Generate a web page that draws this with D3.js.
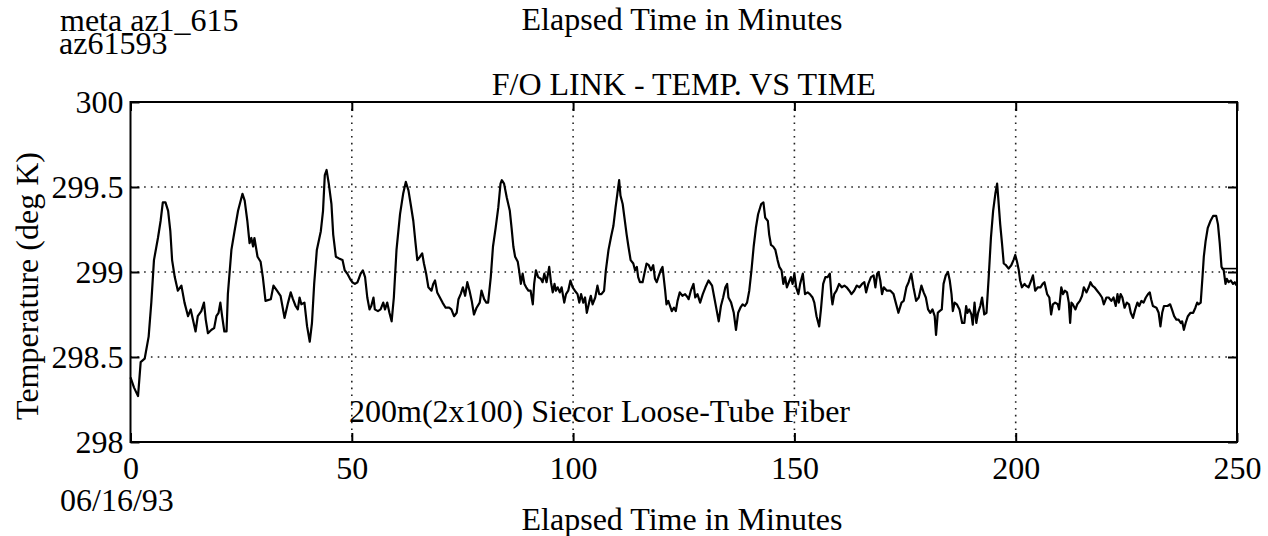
<!DOCTYPE html>
<html>
<head>
<meta charset="utf-8">
<script src="https://cdn.jsdelivr.net/npm/d3@7"></script>
<style>
  body { margin: 0; background: #fff; }
</style>
</head>
<body>
<div id="target"></div>
<script>
// elapsed time (minutes) and temperature (deg K)
const timeMin = [
  0.0, 0.8, 1.7, 2.3, 3.2, 4.1, 4.7, 5.3, 6.2, 6.8, 7.3, 7.9, 8.5, 9.0, 9.4, 10.0, 10.7, 11.5, 12.2, 13.0,
  13.6, 14.1, 14.7, 15.2, 16.0, 16.6, 17.0, 17.5, 18.3, 18.9, 19.4, 19.9, 20.3, 20.7, 21.2, 21.7, 22.0, 22.8, 23.5, 24.3,
  25.3, 25.8, 26.4, 26.9, 27.3, 27.7, 28.0, 28.7, 29.4, 29.9, 30.5, 31.7, 32.3, 33.1, 33.9, 34.8, 35.6, 36.2, 36.7, 37.3,
  37.8, 38.2, 38.6, 39.3, 39.9, 40.5, 41.0, 41.5, 42.1, 43.0, 43.5, 43.9, 44.3, 44.8, 45.4, 45.8, 46.4, 47.1, 47.9, 48.4,
  49.0, 49.6, 50.1, 50.7, 51.3, 52.0, 52.5, 53.0, 53.5, 54.0, 54.4, 54.9, 55.2, 55.9, 56.5, 57.1, 57.5, 58.0, 58.5, 59.0,
  59.5, 60.1, 60.9, 61.6, 62.2, 62.8, 63.3, 63.9, 64.4, 64.8, 65.4, 65.9, 66.3, 66.8, 67.3, 68.0, 68.4, 68.8, 69.3, 69.9,
  70.5, 71.2, 72.0, 72.5, 73.1, 73.7, 74.1, 74.6, 75.1, 75.6, 76.1, 76.6, 77.1, 77.6, 78.2, 78.9, 79.3, 79.9, 80.4, 80.8,
  81.4, 81.9, 82.5, 83.1, 83.6, 83.9, 84.4, 85.0, 85.7, 86.1, 86.5, 86.9, 87.5, 87.8, 88.2, 88.6, 89.0, 89.4, 89.9, 90.4,
  90.9, 91.2, 91.6, 92.1, 92.7, 93.1, 93.5, 94.0, 94.6, 95.0, 95.4, 95.8, 96.1, 96.5, 97.0, 97.4, 98.0, 98.4, 98.9, 99.4,
  99.9, 100.4, 101.0, 101.4, 101.8, 102.3, 102.7, 103.1, 103.7, 104.0, 104.4, 105.0, 105.5, 105.9, 106.4, 107.0, 107.4, 108.0, 108.6, 109.1,
  109.6, 110.0, 110.4, 110.7, 111.2, 111.6, 112.1, 112.5, 113.0, 113.6, 114.0, 114.4, 114.7, 115.1, 115.7, 116.1, 116.6, 117.1, 117.6, 118.1,
  118.5, 118.9, 119.4, 119.8, 120.2, 120.8, 121.1, 121.5, 121.9, 122.3, 122.8, 123.2, 123.6, 124.1, 124.7, 125.3, 125.9, 126.1, 126.6, 127.2,
  127.6, 128.1, 128.7, 129.3, 129.9, 130.6, 131.4, 131.9, 132.4, 132.9, 133.4, 133.9, 134.4, 134.8, 135.1, 135.7, 136.3, 136.8, 137.3, 137.8,
  138.3, 138.8, 139.3, 139.8, 140.3, 140.8, 141.3, 141.8, 142.5, 143.0, 143.4, 144.0, 144.3, 144.7, 145.2, 145.7, 146.2, 146.6, 147.1, 147.5,
  147.9, 148.3, 148.9, 149.2, 149.6, 150.0, 150.4, 150.9, 151.3, 151.9, 152.4, 153.0, 153.5, 154.1, 154.5, 155.0, 155.6, 156.0, 156.5, 157.0,
  157.5, 158.0, 158.4, 158.6, 159.0, 159.5, 160.1, 160.7, 161.3, 161.8, 162.4, 162.9, 163.5, 164.1, 164.7, 165.3, 165.8, 166.2, 166.7, 167.3,
  167.9, 168.3, 168.7, 169.0, 169.4, 169.8, 170.2, 170.9, 171.7, 172.4, 172.9, 173.5, 174.2, 174.7, 175.3, 175.8, 176.4, 176.9, 177.5, 178.1,
  178.7, 179.2, 179.7, 180.2, 180.7, 181.2, 181.7, 182.0, 182.4, 182.8, 183.3, 183.7, 184.2, 184.7, 185.1, 185.5, 185.8, 186.2, 186.7, 187.3,
  187.9, 188.4, 188.8, 189.1, 189.5, 190.0, 190.3, 190.7, 191.1, 191.5, 192.0, 192.4, 192.9, 193.4, 193.9, 194.4, 194.9, 195.4, 195.8, 196.1,
  196.5, 196.9, 197.3, 197.8, 198.4, 199.0, 199.5, 199.9, 200.3, 200.7, 201.0, 201.4, 202.0, 202.3, 202.9, 203.5, 203.9, 204.4, 205.0, 205.6,
  206.1, 206.5, 207.1, 207.6, 208.0, 208.4, 208.9, 209.5, 209.8, 210.3, 210.7, 211.1, 211.6, 212.0, 212.3, 212.6, 212.9, 213.5, 213.9, 214.5,
  215.0, 215.4, 216.0, 216.5, 216.9, 217.3, 217.8, 218.4, 219.0, 219.5, 219.9, 220.5, 221.0, 221.6, 222.1, 222.6, 223.0, 223.3, 223.7, 224.1,
  224.6, 225.1, 225.6, 226.0, 226.5, 227.0, 227.5, 227.9, 228.4, 228.9, 229.4, 229.9, 230.3, 230.6, 231.0, 231.8, 232.3, 232.7, 233.1, 233.5,
  234.3, 234.9, 235.3, 235.8, 236.3, 236.8, 237.3, 237.6, 238.0, 238.4, 238.9, 239.5, 240.1, 240.6, 241.0, 241.3, 241.8, 242.2, 242.5, 242.9,
  243.4, 244.0, 244.6, 245.3, 245.7, 246.1, 246.5, 247.0, 247.4, 247.7, 248.1, 248.6, 249.1, 249.5, 249.9
];
const tempK = [
  298.38, 298.32, 298.27, 298.47, 298.49, 298.62, 298.82, 299.07, 299.20, 299.30, 299.41, 299.41, 299.36, 299.24, 299.07, 298.97, 298.89, 298.92, 298.82, 298.74,
  298.78, 298.72, 298.65, 298.74, 298.77, 298.82, 298.72, 298.64, 298.66, 298.67, 298.74, 298.76, 298.82, 298.74, 298.65, 298.65, 298.87, 299.13, 299.24, 299.36,
  299.46, 299.42, 299.30, 299.17, 299.20, 299.15, 299.20, 299.09, 299.06, 298.97, 298.83, 298.84, 298.92, 298.89, 298.86, 298.73, 298.82, 298.88, 298.84, 298.80,
  298.78, 298.85, 298.81, 298.82, 298.68, 298.59, 298.70, 298.93, 299.13, 299.24, 299.36, 299.57, 299.60, 299.52, 299.40, 299.22, 299.09, 299.08, 299.07, 299.01,
  298.99, 298.96, 298.94, 298.93, 298.94, 298.99, 299.01, 298.97, 298.85, 298.78, 298.80, 298.85, 298.78, 298.77, 298.78, 298.82, 298.78, 298.82, 298.76, 298.71,
  298.85, 299.13, 299.34, 299.46, 299.53, 299.48, 299.40, 299.30, 299.17, 299.07, 299.09, 299.11, 299.05, 298.99, 298.91, 298.89, 298.93, 298.95, 298.88, 298.85,
  298.82, 298.79, 298.79, 298.78, 298.74, 298.76, 298.84, 298.87, 298.91, 298.86, 298.94, 298.89, 298.83, 298.75, 298.79, 298.82, 298.89, 298.84, 298.82, 298.82,
  298.97, 299.15, 299.26, 299.38, 299.52, 299.54, 299.52, 299.44, 299.36, 299.26, 299.15, 299.09, 299.06, 299.01, 298.93, 298.99, 298.93, 298.91, 298.89, 298.89,
  298.81, 298.93, 299.01, 298.97, 298.96, 298.94, 298.99, 298.94, 299.03, 298.94, 298.88, 298.93, 298.89, 298.91, 298.88, 298.91, 298.82, 298.87, 298.89, 298.95,
  298.91, 298.89, 298.87, 298.82, 298.87, 298.82, 298.85, 298.76, 298.83, 298.86, 298.81, 298.85, 298.92, 298.87, 298.87, 298.89, 299.01, 299.13, 299.21, 299.27,
  299.38, 299.46, 299.54, 299.45, 299.40, 299.32, 299.22, 299.15, 299.07, 299.05, 299.01, 299.03, 298.97, 298.94, 298.94, 298.99, 299.05, 299.04, 299.01, 299.04,
  298.96, 298.94, 298.98, 299.01, 299.03, 298.89, 298.81, 298.83, 298.80, 298.77, 298.79, 298.77, 298.83, 298.88, 298.86, 298.87, 298.85, 298.84, 298.89, 298.93,
  298.85, 298.87, 298.82, 298.87, 298.91, 298.95, 298.92, 298.85, 298.78, 298.71, 298.80, 298.85, 298.91, 298.93, 298.85, 298.82, 298.76, 298.66, 298.76, 298.79,
  298.81, 298.80, 298.82, 298.89, 299.01, 299.15, 299.26, 299.34, 299.40, 299.41, 299.32, 299.30, 299.22, 299.16, 299.15, 299.13, 299.07, 299.03, 299.01, 298.93,
  298.97, 298.91, 298.95, 298.97, 298.93, 298.99, 298.91, 298.87, 298.93, 298.99, 298.87, 298.88, 298.87, 298.85, 298.82, 298.74, 298.68, 298.78, 298.93, 298.97,
  298.97, 298.99, 298.85, 298.81, 298.87, 298.89, 298.93, 298.91, 298.92, 298.91, 298.89, 298.87, 298.89, 298.92, 298.91, 298.93, 298.94, 298.88, 298.93, 298.97,
  298.98, 298.91, 298.99, 299.00, 298.95, 298.87, 298.91, 298.89, 298.89, 298.87, 298.82, 298.76, 298.82, 298.83, 298.91, 298.94, 298.99, 298.91, 298.83, 298.85,
  298.92, 298.88, 298.85, 298.78, 298.76, 298.78, 298.74, 298.63, 298.76, 298.77, 298.78, 298.93, 298.98, 299.00, 298.95, 298.87, 298.77, 298.82, 298.81, 298.78,
  298.70, 298.70, 298.80, 298.76, 298.78, 298.75, 298.69, 298.82, 298.70, 298.76, 298.80, 298.85, 298.75, 298.76, 298.97, 299.20, 299.36, 299.46, 299.52, 299.42,
  299.28, 299.17, 299.05, 299.04, 299.02, 299.04, 299.07, 299.10, 299.06, 299.01, 298.95, 298.91, 298.93, 298.92, 298.91, 298.95, 298.98, 298.89, 298.91, 298.91,
  298.93, 298.94, 298.87, 298.85, 298.75, 298.81, 298.82, 298.81, 298.78, 298.91, 298.87, 298.89, 298.88, 298.82, 298.70, 298.82, 298.81, 298.78, 298.81, 298.83,
  298.86, 298.91, 298.88, 298.91, 298.94, 298.92, 298.91, 298.89, 298.87, 298.85, 298.81, 298.85, 298.85, 298.83, 298.85, 298.80, 298.87, 298.82, 298.87, 298.85,
  298.79, 298.82, 298.81, 298.76, 298.73, 298.78, 298.82, 298.80, 298.83, 298.82, 298.85, 298.87, 298.88, 298.84, 298.80, 298.79, 298.76, 298.68, 298.76, 298.80,
  298.80, 298.81, 298.78, 298.74, 298.72, 298.72, 298.70, 298.71, 298.66, 298.70, 298.74, 298.76, 298.76, 298.79, 298.82, 298.81, 298.82, 298.97, 299.09, 299.18,
  299.26, 299.30, 299.33, 299.33, 299.28, 299.17, 299.03, 299.01, 298.93, 298.96, 298.94, 298.95, 298.93, 298.94, 298.92
];
// short flat piece drawn at the right end
const tailTime = [246.5, 250];
const tailTemp = [299.02, 299.02];

const xTicks = [0, 50, 100, 150, 200, 250];
const yTicks = [298, 298.5, 299, 299.5, 300];
const yTickLabels = ['298', '298.5', '299', '299.5', '300'];

const width = 1268;
const height = 536;
const margin = {top: 102, right: 31, bottom: 94, left: 130.5};
const fontSize = 32;
const serif = "'Liberation Serif', 'Times New Roman', Times, serif";

const svg = d3.select('#target')
  .append('svg')
  .attr('width', width)
  .attr('height', height)
  .style('font-family', serif);

const x = d3.scaleLinear()
  .domain([0, 250])
  .range([margin.left, width - margin.right]);

const y = d3.scaleLinear()
  .domain([298, 300])
  .range([height - margin.bottom, margin.top]);

// dotted grid
const grid = svg.append('g').attr('class', 'grid')
  .attr('stroke', '#222')
  .attr('stroke-width', 1.6)
  .attr('stroke-dasharray', '1.6,5.2');

grid.selectAll('.vline')
  .data(xTicks.slice(1, -1))
  .enter().append('line')
  .attr('x1', (d) => x(d)).attr('x2', (d) => x(d))
  .attr('y1', y(300)).attr('y2', y(298));

grid.selectAll('.hline')
  .data(yTicks.slice(1, -1))
  .enter().append('line')
  .attr('x1', x(0)).attr('x2', x(250))
  .attr('y1', (d) => y(d)).attr('y2', (d) => y(d));

// axes with inward ticks
const tick = 9;
const styleAxis = (sel) => {
  sel.attr('font-family', serif).attr('font-size', fontSize);
  sel.select('.domain').remove();
  sel.selectAll('.tick line').attr('stroke', '#000').attr('stroke-width', 2);
  sel.selectAll('.tick text').attr('font-size', fontSize).attr('font-family', serif);
};

svg.append('g')
  .attr('transform', `translate(0,${y(298)})`)
  .call(d3.axisBottom(x).tickValues(xTicks).tickSize(-tick).tickPadding(14).tickFormat(d3.format('d')))
  .call(styleAxis);

svg.append('g')
  .attr('transform', `translate(${x(0)},0)`)
  .call(d3.axisLeft(y).tickValues(yTicks).tickSize(-tick).tickPadding(7)
    .tickFormat((d, i) => yTickLabels[i]))
  .call(styleAxis);

svg.append('g')
  .attr('transform', `translate(0,${y(300)})`)
  .call(d3.axisTop(x).tickValues(xTicks).tickSize(-tick).tickFormat(''))
  .call(styleAxis);

svg.append('g')
  .attr('transform', `translate(${x(250)},0)`)
  .call(d3.axisRight(y).tickValues(yTicks).tickSize(-tick).tickFormat(''))
  .call(styleAxis);

// box
svg.append('rect')
  .attr('x', x(0)).attr('y', y(300))
  .attr('width', x(250) - x(0)).attr('height', y(298) - y(300))
  .attr('fill', 'none')
  .attr('stroke', '#000')
  .attr('stroke-width', 2);

// temperature trace
const line = d3.line()
  .x((d) => x(d[0]))
  .y((d) => y(d[1]));

svg.append('path')
  .datum(d3.zip(timeMin, tempK))
  .attr('fill', 'none')
  .attr('stroke', '#000')
  .attr('stroke-width', 2.2)
  .attr('stroke-linejoin', 'round')
  .attr('d', line);

svg.append('path')
  .datum(d3.zip(tailTime, tailTemp))
  .attr('fill', 'none')
  .attr('stroke', '#000')
  .attr('stroke-width', 1.6)
  .attr('d', line);

// labels
const label = (txt, px, py, anchor) => svg.append('text')
  .attr('x', px).attr('y', py)
  .attr('font-size', fontSize)
  .attr('font-family', serif)
  .attr('text-anchor', anchor || 'start')
  .text(txt);

label('meta az1_615', 60, 31);
label('az61593', 59, 54);
label('Elapsed Time in Minutes', 682, 30, 'middle');
label('F/O LINK - TEMP. VS TIME', x(125), 95, 'middle');
label('200m(2x100) Siecor Loose-Tube Fiber', 349, 422);
label('06/16/93', 60, 511);
label('Elapsed Time in Minutes', 682, 530, 'middle');

svg.append('text')
  .attr('transform', `translate(38,${(y(298) + y(300)) / 2 + 14}) rotate(-90)`)
  .attr('font-size', fontSize)
  .attr('font-family', serif)
  .attr('text-anchor', 'middle')
  .text('Temperature (deg K)');
</script>
</body>
</html>
